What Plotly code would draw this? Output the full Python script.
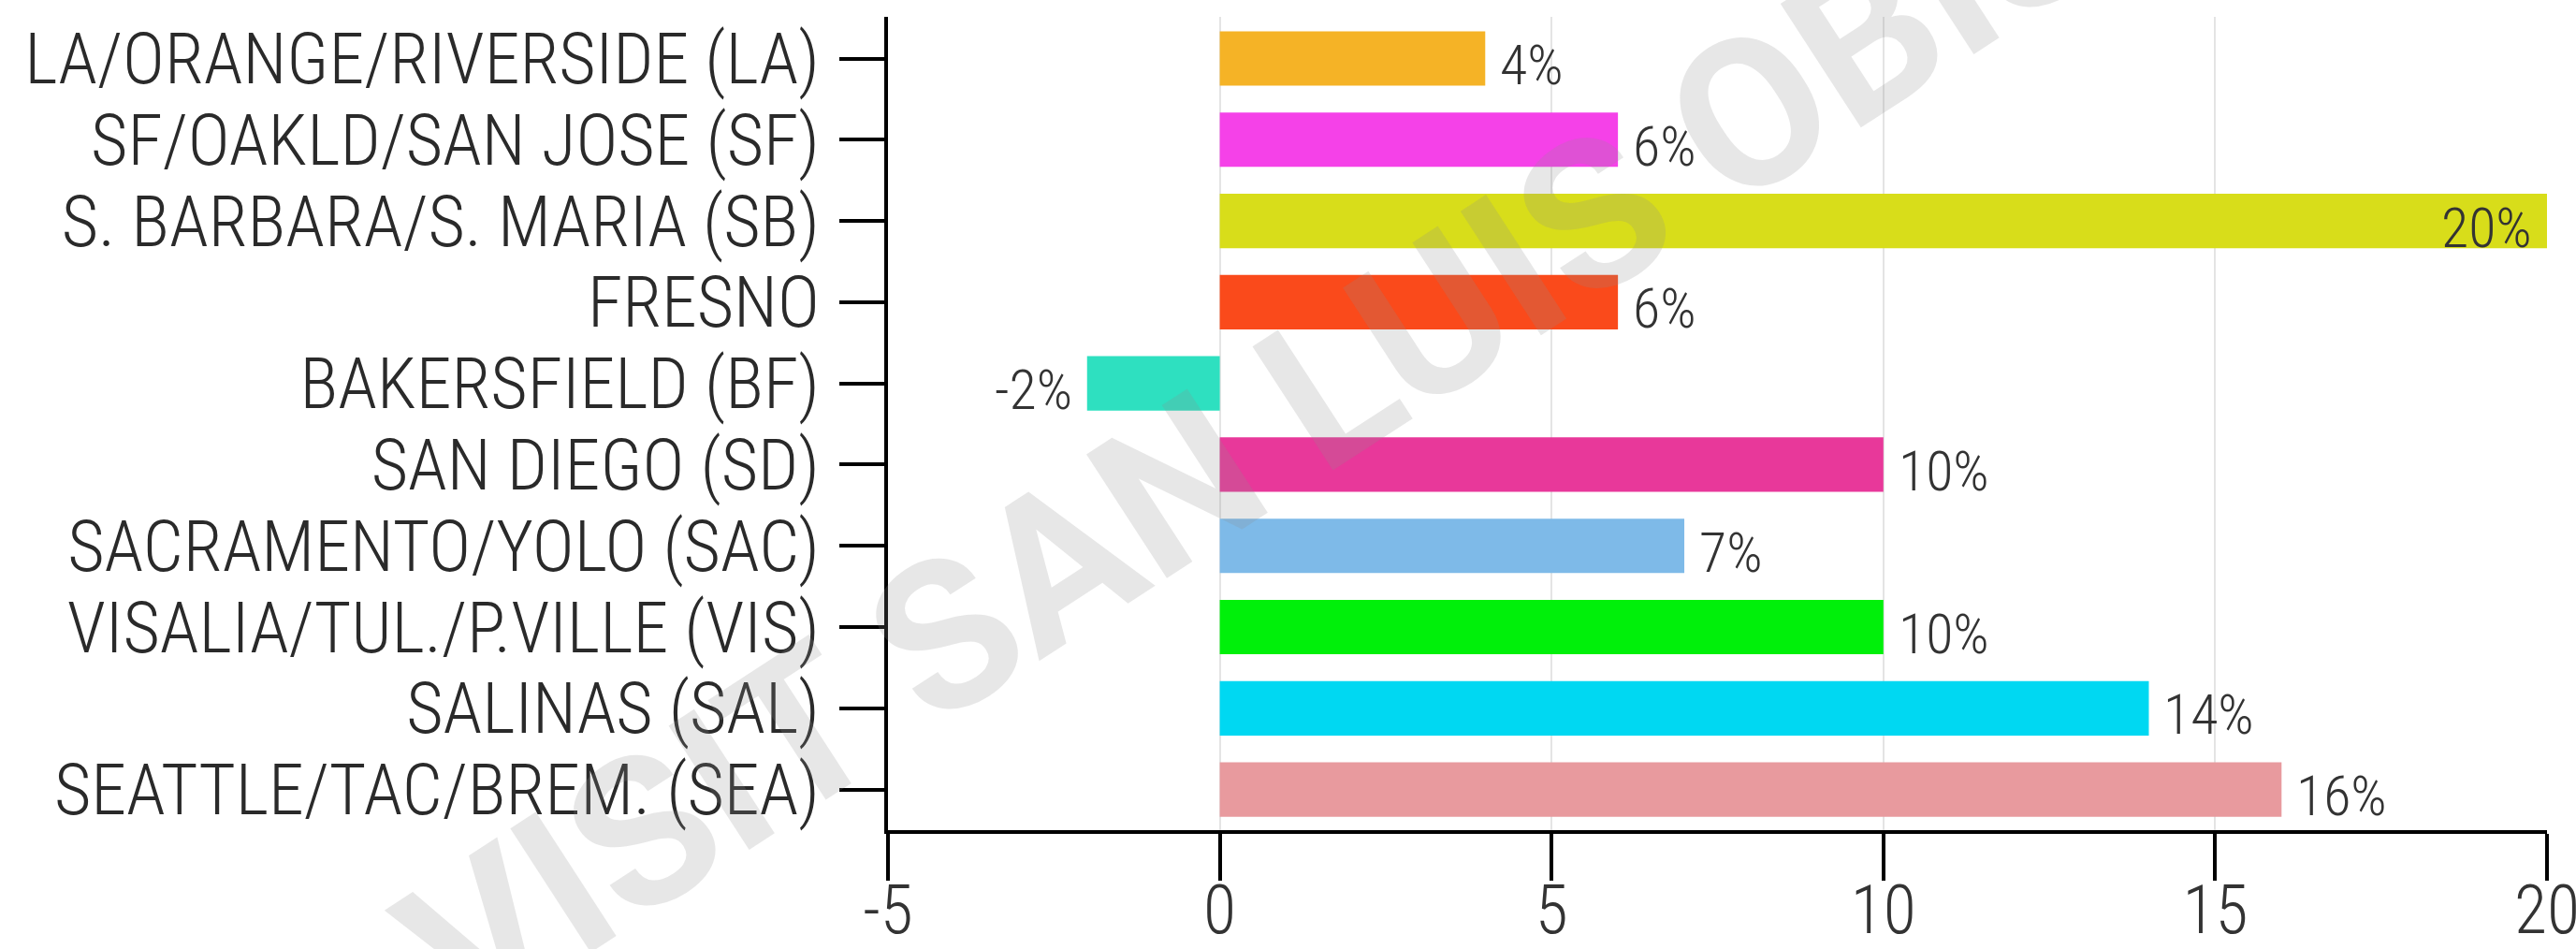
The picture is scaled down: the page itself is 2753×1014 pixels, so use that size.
import plotly.graph_objects as go

# Market areas, listed top to bottom
markets = [
    "LA/ORANGE/RIVERSIDE (LA)",
    "SF/OAKLD/SAN JOSE (SF)",
    "S. BARBARA/S. MARIA (SB)",
    "FRESNO",
    "BAKERSFIELD (BF)",
    "SAN DIEGO (SD)",
    "SACRAMENTO/YOLO (SAC)",
    "VISALIA/TUL./P.VILLE (VIS)",
    "SALINAS (SAL)",
    "SEATTLE/TAC/BREM. (SEA)",
]

# Percent change per market
pct_change = [4, 6, 20, 6, -2, 10, 7, 10, 14, 16]

bar_colors = [
    "#F5B326", "#F541E8", "#D8DD1A", "#FA4A1B", "#2EE0C0",
    "#E8389A", "#7EBAE8", "#00F00A", "#00D8F2", "#E89A9E",
]

x_ticks = [-5, 0, 5, 10, 15, 20]
x_range = [-5, 20]

FONT = "Roboto Condensed, Liberation Sans Narrow, DejaVu Sans Condensed, Roboto, sans-serif"

fig = go.Figure(
    go.Bar(
        x=pct_change,
        y=markets,
        orientation="h",
        width=0.67,
        marker=dict(color=bar_colors, line=dict(width=0)),
        hoverinfo="skip",
    )
)

# Percent labels next to (or inside the end of) each bar
for name, v in zip(markets, pct_change):
    if v >= x_range[1]:
        anchor, shift = "right", -14
    elif v < 0:
        anchor, shift = "right", -14
    else:
        anchor, shift = "left", 14
    fig.add_annotation(
        x=v, y=name, xref="x", yref="y",
        text=f"{v}%", showarrow=False,
        xanchor=anchor, yanchor="middle",
        xshift=shift, yshift=-7,
        font=dict(family=FONT, size=60, color="#333333", weight=300),
    )

# Diagonal watermark
fig.add_annotation(
    x=0.29, y=0.575, xref="paper", yref="paper",
    text="VISIT SAN LUIS OBISPO", showarrow=False,
    textangle=-33, xanchor="center", yanchor="middle",
    font=dict(family="Roboto, sans-serif", size=222, color="rgba(140,140,140,0.21)", weight="bold"),
)

fig.update_layout(
    width=2753,
    height=1014,
    margin=dict(l=949, r=31, t=18, b=127, autoexpand=False),
    paper_bgcolor="white",
    plot_bgcolor="white",
    showlegend=False,
    xaxis=dict(
        range=x_range,
        tickmode="array",
        tickvals=x_ticks,
        ticktext=[str(t) for t in x_ticks],
        showgrid=True,
        gridcolor="#E4E4E4",
        gridwidth=2,
        zeroline=False,
        showline=True,
        linecolor="black",
        linewidth=4,
        ticks="outside",
        ticklen=50,
        tickwidth=4,
        tickcolor="black",
        automargin=False,
        ticklabeloverflow="allow",
        ticklabelstandoff=-30,
        tickfont=dict(family=FONT, size=72, color="#333333", weight=300),
    ),
    yaxis=dict(
        autorange="reversed",
        tickmode="array",
        tickvals=markets,
        ticktext=markets,
        showgrid=False,
        zeroline=False,
        showline=True,
        linecolor="black",
        linewidth=4,
        ticks="outside",
        ticklen=48,
        tickwidth=4,
        tickcolor="black",
        automargin=False,
        ticklabelstandoff=6,
        tickfont=dict(family=FONT, size=76, color="#2a2a2a", weight=300),
    ),
)

fig.write_html("out.html")
